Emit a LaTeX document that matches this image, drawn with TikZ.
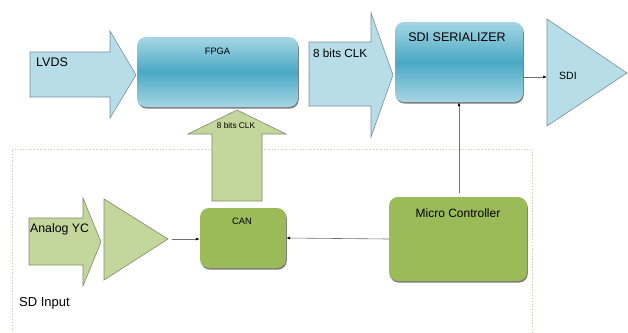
\documentclass[tikz,border=0pt]{standalone}
\usepackage{fontspec}
\setmainfont{Liberation Sans}
\usetikzlibrary{shadows,arrows.meta}
\definecolor{bluefill}{HTML}{B7DEE8}
\definecolor{blueline}{HTML}{7B8C99}
\definecolor{greenlight}{HTML}{C3D69B}
\definecolor{greenline}{HTML}{7F8A6A}
\definecolor{greenbox}{HTML}{9BBB59}
\definecolor{tealmid}{HTML}{4AA9C5}
\definecolor{teallight}{HTML}{A6D6E4}
\definecolor{conn}{HTML}{707070}
\definecolor{frame}{HTML}{C9C9A8}
\tikzset{
  bluearrow/.style={fill=bluefill,draw=blueline,line width=0.6pt},
  greenarrow/.style={fill=greenlight,draw=greenline,line width=0.6pt},
  tealbox/.style={rounded corners=9pt,top color=teallight,bottom color=teallight,middle color=tealmid,draw=none,
    drop shadow={shadow xshift=0.8pt,shadow yshift=-1.6pt,fill=black!65,opacity=0.8},inner sep=0pt},
  greenboxst/.style={rounded corners=9pt,fill=greenbox,draw=none,
    drop shadow={shadow xshift=0.8pt,shadow yshift=-1.6pt,fill=black!65,opacity=0.8},inner sep=0pt},
  connector/.style={draw=conn,line width=0.6pt,-{Latex[length=4pt,width=3pt,color=black]}},
  lbl/.style={font=\fontsize{12.5}{14}\selectfont,inner sep=0pt},
  lblsm/.style={font=\fontsize{9.3}{11}\selectfont,inner sep=0pt},
  lbltiny/.style={font=\fontsize{8.3}{10}\selectfont,inner sep=0pt},
}
\begin{document}
\begin{tikzpicture}[x=1pt,y=-1pt]
\useasboundingbox (0,0) rectangle (628,332);
% dotted frame
\draw[frame,dotted,line width=0.8pt] (12,334) -- (12,149) -- (532,149) -- (532,334);
% LVDS arrow
\draw[bluearrow] (30,52) -- (110,52) -- (110,31) -- (136,75) -- (110,118) -- (110,97) -- (30,97) -- cycle;
\node[lbl,anchor=west] (lvds) at (36,62) {LVDS};
% FPGA
\node[tealbox,minimum width=161pt,minimum height=70pt] (fpga) at (217.5,72) {};
\node[lblsm] (fpgat) at (217.5,51) {FPGA};
% 8 bits CLK arrow (top)
\draw[bluearrow] (309,42) -- (371,42) -- (371,13) -- (393,75) -- (371,137) -- (371,106) -- (309,106) -- cycle;
\node[lbl,anchor=west,font=\fontsize{11.7}{13}\selectfont] (clk) at (313,53) {8 bits CLK};
% SDI serializer
\node[tealbox,minimum width=128pt,minimum height=80pt] (ser) at (459,62) {};
\node[lbl] (sert) at (457,37) {SDI SERIALIZER};
% SDI triangle
\draw[bluearrow] (547,19) -- (627,73) -- (547,126) -- cycle;
\coordinate (sdiin) at (547,77);
\node[lbl,anchor=west,font=\fontsize{10.5}{12}\selectfont] (sdi) at (559,76) {SDI};
\draw[connector] (ser.east |- sdiin) -- (sdiin);
% green up arrow
\draw[greenarrow] (212,201) -- (212,134) -- (188,134) -- (237,110) -- (286,134) -- (262,134) -- (262,201) -- cycle;
\node[lbltiny] (clk2) at (236,126) {8 bits CLK};
% CAN
\node[greenboxst,minimum width=86pt,minimum height=60pt] (can) at (243,238) {};
\node[lblsm] (cant) at (242,221) {CAN};
% Micro controller
\node[greenboxst,minimum width=138pt,minimum height=84pt] (mc) at (458,239) {};
\node[lbl,font=\fontsize{12}{14}\selectfont] (mct) at (458,213) {Micro Controller};
% Analog YC arrow
\draw[greenarrow] (29,218) -- (83,218) -- (83,198) -- (101,242) -- (83,286) -- (83,265) -- (29,265) -- cycle;
\node[lbl,anchor=west,font=\fontsize{12.3}{14}\selectfont] (ayc) at (30,229) {Analog YC};
% amplifier triangle
\draw[greenarrow] (104,199) -- (168,239) -- (104,280) -- cycle;
\coordinate (amp) at (172,239);
\draw[connector] (amp) -- (can.west |- amp);
% connectors
\draw[connector] (mc.north) ++(1,-4) coordinate (mctop) -- (mctop |- ser.south);
\draw[connector] (mc.west) -- (can.east);
% SD input
\node[lbl,anchor=west,font=\fontsize{13}{15}\selectfont] (sdin) at (19,303) {SD Input};
\end{tikzpicture}
\end{document}
